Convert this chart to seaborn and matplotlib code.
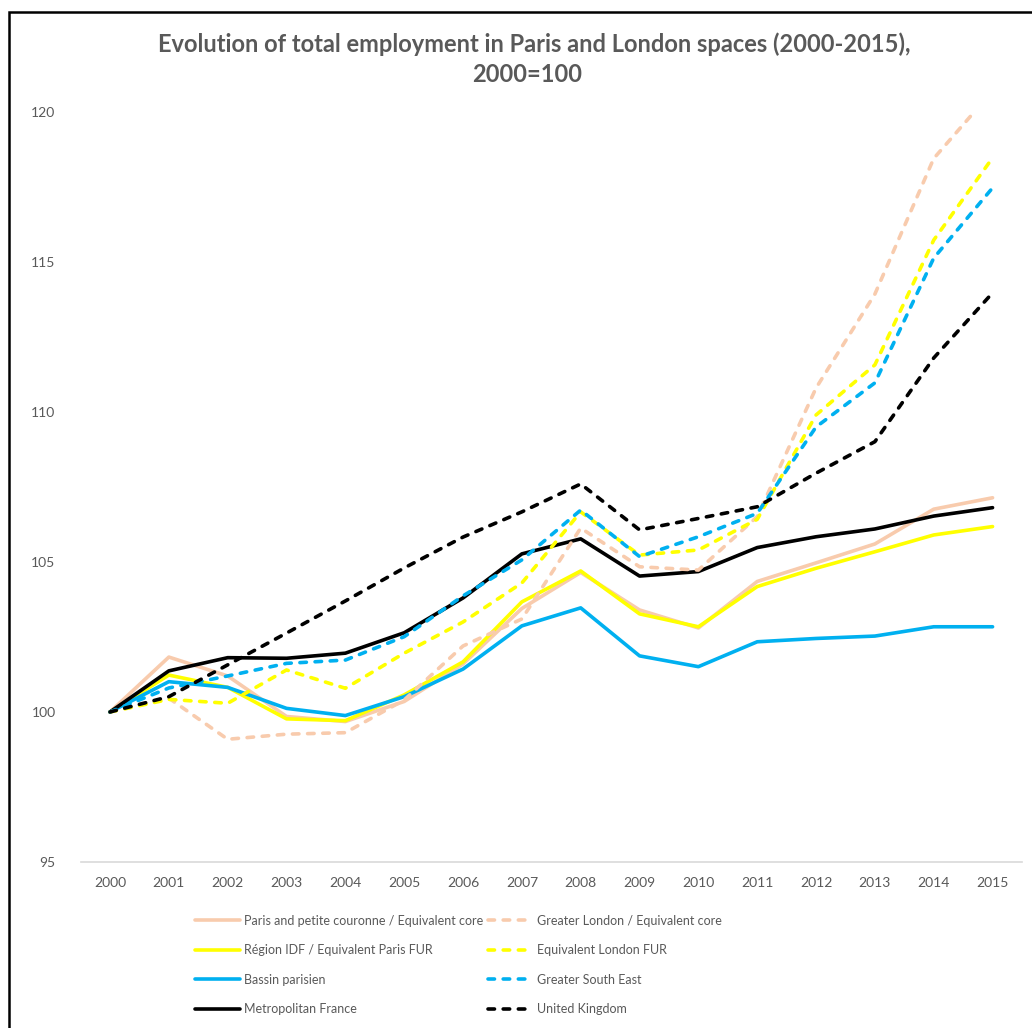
import matplotlib
matplotlib.use('Agg')
import matplotlib.pyplot as plt
import matplotlib.patches as mpatches
import seaborn as sns
import pandas as pd

# values (2000=100)
years = list(range(2000, 2016))

paris_core = [100, 101.83, 101.2, 99.85, 99.68, 100.35, 101.6, 103.45, 104.65, 103.4, 102.8, 104.35, 104.97, 105.6, 106.76, 107.14]
idf_fur = [100, 101.23, 100.82, 99.77, 99.71, 100.57, 101.67, 103.67, 104.7, 103.27, 102.84, 104.18, 104.79, 105.34, 105.9, 106.18]
bassin = [100, 101.01, 100.82, 100.12, 99.88, 100.51, 101.43, 102.87, 103.47, 101.87, 101.51, 102.34, 102.45, 102.53, 102.84, 102.84]
metro_france = [100, 101.37, 101.81, 101.79, 101.96, 102.64, 103.8, 105.27, 105.77, 104.53, 104.68, 105.48, 105.84, 106.1, 106.53, 106.81]
greater_london = [100, 100.46, 99.09, 99.26, 99.31, 100.4, 102.2, 103.1, 106.13, 104.84, 104.73, 106.51, 110.8, 113.93, 118.45, 120.7]
london_fur = [100, 100.42, 100.29, 101.4, 100.79, 101.96, 103.0, 104.3, 106.67, 105.23, 105.4, 106.42, 109.9, 111.57, 115.73, 118.47]
gse = [100, 100.8, 101.2, 101.62, 101.73, 102.51, 103.87, 105.07, 106.73, 105.18, 105.84, 106.62, 109.5, 110.97, 115.13, 117.47]
uk = [100, 100.51, 101.57, 102.63, 103.7, 104.8, 105.83, 106.67, 107.6, 106.07, 106.45, 106.84, 107.96, 109.01, 111.8, 113.97]

names = ['Paris and petite couronne / Equivalent core',
         'Région IDF / Equivalent Paris FUR',
         'Bassin parisien',
         'Metropolitan France',
         'Greater London / Equivalent core',
         'Equivalent London FUR',
         'Greater South East',
         'United Kingdom']
series = [paris_core, idf_fur, bassin, metro_france, greater_london, london_fur, gse, uk]
colors = ['#F8CBAD', '#FFFF00', '#00B0F0', '#000000'] * 2

rows = []
for name, vals in zip(names, series):
    for y, v in zip(years, vals):
        rows.append({'year': y, 'value': v, 'series': name})
df = pd.DataFrame(rows)

sns.set_style('white')
plt.rcParams['font.family'] = ['Lato', 'DejaVu Sans']

fig = plt.figure(figsize=(10.32, 10.28), dpi=100)
ax = fig.add_axes([0.0781, 0.1615, 0.9122, 0.7296])

palette = dict(zip(names, colors))
dashes = {n: ('' if i < 4 else (1.8, 2.4)) for i, n in enumerate(names)}
sns.lineplot(data=df, x='year', y='value', hue='series', style='series',
             hue_order=names, style_order=names, palette=palette, dashes=dashes,
             linewidth=2.6, ax=ax, legend=True)
for ln in ax.get_lines():
    ln.set_dash_capstyle('round')
    ln.set_solid_capstyle('round')

ax.set_xlim(1999.5, 2015.5)
ax.set_ylim(95, 120)
ax.set_xticks(years)
ax.set_yticks([95, 100, 105, 110, 115, 120])
ax.set_xlabel('')
ax.set_ylabel('')
ax.tick_params(axis='both', length=0, colors='#595959', labelsize=10)
ax.tick_params(axis='x', pad=11)
ax.tick_params(axis='y', pad=18)
for s in ['top', 'right', 'left']:
    ax.spines[s].set_visible(False)
ax.spines['bottom'].set_color('#D9D9D9')
ax.spines['bottom'].set_linewidth(1.2)

handles, labels = ax.get_legend_handles_labels()
ax.get_legend().remove()
hmap = dict(zip(labels, handles))
leg_h = [hmap[n] for n in names]
for h in leg_h:
    h.set_linewidth(2.6)
    h.set_dash_capstyle('round')
    h.set_solid_capstyle('round')
fig.legend(leg_h, names, ncol=2, loc='upper left', bbox_to_anchor=(0.178, 0.121),
           frameon=False, fontsize=9, labelcolor='#595959', handlelength=3.6,
           handletextpad=0.3, columnspacing=0.4, labelspacing=1.4)

title_kw = dict(ha='center', va='baseline', fontsize=17, fontweight='bold', color='#595959')
fig.text(0.518, 1 - 52 / 1028, 'Evolution of total employment in Paris and London spaces (2000-2015),', **title_kw)
fig.text(0.511, 1 - 82 / 1028, '2000=100', **title_kw)

# chart border (left and top edges visible in the crop)
fig.patches.append(mpatches.Rectangle((0.0087, -0.05), 1.2, 1.038, transform=fig.transFigure,
                                      fill=False, edgecolor='black', linewidth=1.8))

fig.savefig('out.png', dpi=100)
